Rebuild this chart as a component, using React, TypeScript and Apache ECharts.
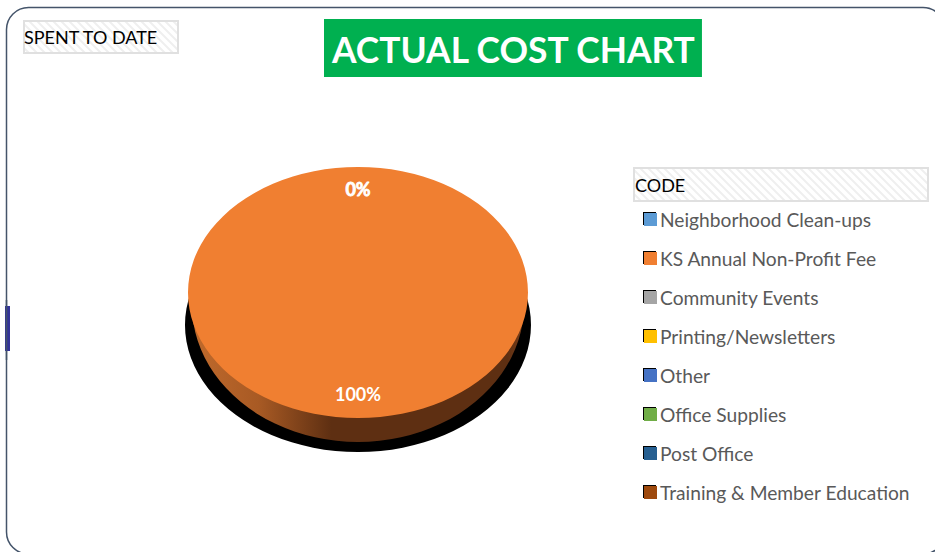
import React, { useEffect, useRef } from "react";
import * as echarts from "echarts";

const titleText = "ACTUAL COST CHART";
const seriesLabel = "SPENT TO DATE";
const categoryLabel = "CODE";
const categories = [
  "Neighborhood Clean-ups",
  "KS Annual Non-Profit Fee",
  "Community Events",
  "Printing/Newsletters",
  "Other",
  "Office Supplies",
  "Post Office",
  "Training & Member Education",
];
const values = [0, 100, 0, 0, 0, 0, 0, 0];
const colors = ["#5B9BD5", "#F07F31", "#A5A5A5", "#FFC000", "#4472C4", "#70AD47", "#255E91", "#9E480E"];

const FONT = "Lato, Carlito, sans-serif";
const CX = 358;
const CY = 292.5;
const RX = 170;
const RY = 125.5;

function hatch() {
  const c = document.createElement("canvas");
  c.width = 8;
  c.height = 8;
  const g = c.getContext("2d")!;
  g.fillStyle = "#ffffff";
  g.fillRect(0, 0, 8, 8);
  g.strokeStyle = "#efefef";
  g.lineWidth = 2;
  g.beginPath();
  g.moveTo(-2, -2);
  g.lineTo(10, 10);
  g.moveTo(-6, 2);
  g.lineTo(2, 10);
  g.moveTo(6, -2);
  g.lineTo(10, 2);
  g.stroke();
  return c;
}

function ellipticSector(cx: number, cy: number, rx: number, ry: number, a0: number, a1: number, fill: any) {
  return {
    type: "sector",
    x: cx,
    y: cy,
    scaleY: ry / rx,
    shape: { cx: 0, cy: 0, r0: 0, r: rx, startAngle: a0, endAngle: a1, clockwise: true },
    style: { fill },
    silent: true,
  };
}

export default function App() {
  const ref = useRef<HTMLDivElement>(null);
  useEffect(() => {
    const chart = echarts.init(ref.current!, undefined, { renderer: "svg" });
    const total = values.reduce((a, b) => a + b, 0);
    const wallFill = new echarts.graphic.LinearGradient(0, 0, 1, 0, [
      { offset: 0, color: "#C06A2C" },
      { offset: 0.2, color: "#A85A24" },
      { offset: 0.42, color: "#5E2F12" },
      { offset: 0.95, color: "#5E2F12" },
      { offset: 1, color: "#7A3F1A" },
    ]);
    const firstZero = values.indexOf(0);

    const series = categories.map((name, i) => {
      const before = values.slice(0, i).reduce((a, b) => a + b, 0);
      return {
        type: "custom",
        name,
        coordinateSystem: "none",
        itemStyle: { color: colors[i] },
        data: [[values[i]]],
        z: 2,
        renderItem: (_p: any, api: any) => {
          const v = api.value(0) as number;
          const a0 = -Math.PI / 2 + (before / total) * Math.PI * 2;
          const a1 = a0 + (v / total) * Math.PI * 2;
          const mid = (a0 + a1) / 2;
          const children: any[] = [];
          if (v > 0) {
            children.push(ellipticSector(CX, 325, 173, 127, a0, a1, "#000000"));
            children.push(ellipticSector(CX, 305, 166, 137, a0, a1, wallFill));
            children.push(ellipticSector(CX, CY, RX, RY, a0, a1, colors[i]));
          }
          if (v > 0 || i === firstZero) {
            children.push({
              type: "text",
              z2: 100,
              x: CX + Math.cos(mid) * RX * 0.82,
              y: CY + Math.sin(mid) * RY * (v > 0 ? 0.81 : 0.825),
              style: {
                text: `${Math.round((v / total) * 100)}%`,
                fill: "#ffffff",
                font: `bold 18px ${FONT}`,
                align: "center",
                verticalAlign: "middle",
                stroke: v > 0 ? undefined : "#ffffff",
                lineWidth: v > 0 ? 0 : 0.8,
              },
              silent: true,
            });
          }
          return { type: "group", children };
        },
      };
    });

    const pattern = { image: hatch(), repeat: "repeat" };
    const box = (x: number, y: number, w: number, h: number, text: string, dx: number, dy: number) => ({
      type: "group",
      children: [
        { type: "rect", shape: { x, y, width: w, height: h }, style: { fill: pattern, stroke: "#e0e0e0", lineWidth: 2 }, silent: true },
        {
          type: "text",
          x: x + dx,
          y: y + h / 2 + dy,
          style: { text, fill: "#000000", font: `18px ${FONT}`, verticalAlign: "middle" },
          silent: true,
        },
      ],
    });

    chart.setOption({
      animation: false,
      backgroundColor: "#ffffff",
      title: {
        text: titleText,
        left: 324,
        top: 19,
        padding: [12, 5, 10, 8],
        backgroundColor: "#00B050",
        textStyle: { color: "#ffffff", fontFamily: FONT, fontWeight: "bold", fontSize: 35.4, lineHeight: 36 },
      },
      legend: {
        orient: "vertical",
        left: 644,
        top: 210,
        padding: 0,
        icon: "rect",
        itemWidth: 13,
        itemHeight: 13,
        itemGap: 20,
        selectedMode: false,
        data: categories,
        itemStyle: { shadowColor: "#000000", shadowBlur: 0, shadowOffsetX: -1, shadowOffsetY: -1 },
        textStyle: { color: "#595959", fontFamily: FONT, fontSize: 19.2, padding: [0, 0, 0, -2] },
      },
      graphic: [
        {
          type: "rect",
          z: -10,
          shape: { x: 6.5, y: 7.5, width: 938.5, height: 546.5, r: 22 },
          style: { fill: "#ffffff", stroke: "#44546A", lineWidth: 1.5 },
          silent: true,
        },
        { type: "rect", z: -9, shape: { x: 5, y: 306, width: 5, height: 45 }, style: { fill: "#333399" }, silent: true },
        { type: "line", z: -8, shape: { x1: 6.5, y1: 300, x2: 6.5, y2: 360 }, style: { stroke: "#44546A", lineWidth: 1.5 }, silent: true },
        box(24, 21, 154, 32, seriesLabel, 0, 0),
        box(634, 168, 294, 33, categoryLabel, 1, 0),
      ],
      series,
    } as any);
    return () => chart.dispose();
  }, []);
  return <div ref={ref} style={{ position: "absolute", left: 0, top: 0, width: 935, height: 552 }} />;
}
